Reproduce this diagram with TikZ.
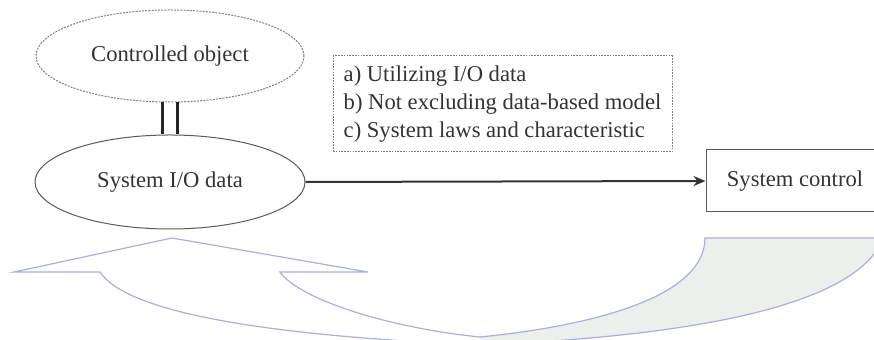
\documentclass[tikz,border=0pt]{standalone}
\usepackage{fontspec}
\setmainfont{Liberation Serif}
\usetikzlibrary{shapes.geometric,arrows.meta}
\definecolor{txt}{HTML}{333333}
\definecolor{edge}{HTML}{5A5A5A}
\definecolor{lav}{HTML}{A9AFE0}
\definecolor{bandfill}{HTML}{ECEFEB}
\tikzset{
  lbl/.style={font=\fontsize{11.3}{14}\selectfont, text=txt},
  ell/.style={ellipse, draw=edge, line width=0.5pt, inner sep=0pt, lbl},
  dotell/.style={ell, draw=gray, dash pattern=on 1pt off 0.6pt},
  notebox/.style={draw=gray, dash pattern=on 0.8pt off 0.6pt, line width=0.5pt, lbl, align=left, minimum width=169.5pt, minimum height=48pt, inner sep=0pt},
  ctrlbox/.style={draw=edge, line width=0.5pt, lbl, minimum width=89pt, minimum height=31pt, inner sep=0pt},
  twin/.style={line width=1.4pt, black!85},
  flow/.style={line width=1pt, black!80, -{Stealth[length=6pt, width=5pt]}},
  band/.style={draw=lav, line width=0.6pt, line join=miter}
}
\begin{document}
\begin{tikzpicture}[x=0.5pt, y=-0.5pt]
\useasboundingbox (0,0) rectangle (874,340);
\clip (0,0) rectangle (874,340);
% bottom curved arrow band
\fill[bandfill] (705,238) -- (880,238) -- (880,245)
  .. controls (850,300) and (720,335) .. (480,345)
  -- (480,337) .. controls (600,325) and (705,295) .. (705,238) -- cycle;
\draw[band] (880,245) .. controls (850,300) and (720,335) .. (480,345);
\draw[band] (480,337) .. controls (600,325) and (705,295) .. (705,238) -- (880,238);
\draw[band] (480,337) .. controls (390,328) and (300,300) .. (280,272)
  -- (368,272) -- (172,238) -- (14,272) -- (100,272)
  .. controls (125,310) and (250,335) .. (480,345);
% nodes
\node[dotell, minimum width=134pt, minimum height=46pt] (co) at (170,56) {Controlled object};
\node[ell, minimum width=135pt, minimum height=47pt] (io) at (170,182) {System I/O data};
\node[notebox] (nb) at (502.5,104) {a) Utilizing I/O data\\ b) Not excluding data-based model\\ c) System laws and characteristic};
\node[ctrlbox] (sc) at (795,181) {System control};
% connectors
\draw[twin] ([xshift=-3.6pt]co.south) -- ([xshift=-3.6pt]io.north);
\draw[twin] ([xshift=3.9pt]co.south) -- ([xshift=3.9pt]io.north);
\draw[flow] (io.east) -- (sc.west);
\end{tikzpicture}
\end{document}
